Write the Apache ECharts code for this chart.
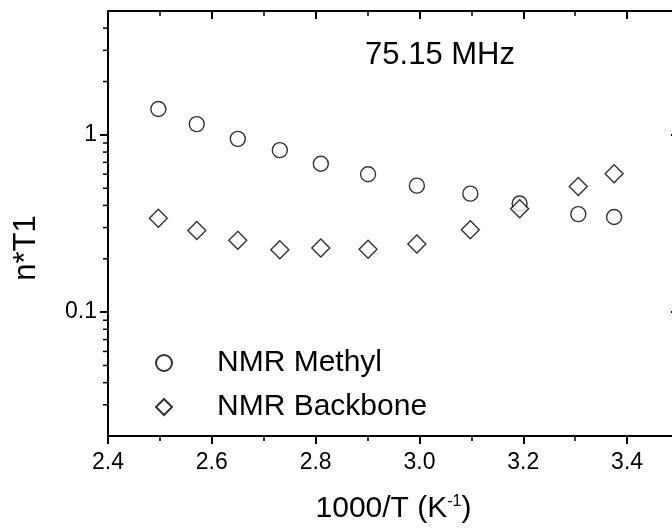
<!DOCTYPE html>
<html>
<head>
<meta charset="utf-8">
<script src="https://cdn.jsdelivr.net/npm/echarts@6/dist/echarts.min.js"></script>
<style>
  html, body { margin: 0; padding: 0; background: #fff; }
  #chart { width: 672px; height: 531px; }
</style>
</head>
<body>
<div id="chart"></div>
<script>
// 1000/T values shared by both series
var invT = [2.497, 2.571, 2.650, 2.731, 2.810, 2.901, 2.995, 3.098, 3.193, 3.306, 3.375];
var methyl = [1.40, 1.15, 0.95, 0.82, 0.687, 0.60, 0.517, 0.466, 0.41, 0.357, 0.344];
var backbone = [0.339, 0.289, 0.254, 0.225, 0.230, 0.226, 0.242, 0.292, 0.383, 0.511, 0.604];
var seriesNames = ['NMR Methyl', 'NMR Backbone'];
var yMinorTicks = [0.03, 0.04, 0.05, 0.06, 0.07, 0.08, 0.09,
                   0.2, 0.3, 0.4, 0.5, 0.6, 0.7, 0.8, 0.9, 2, 3, 4];

var FONT = '"Liberation Sans", Arial, Helvetica, sans-serif';

function pairs(xs, ys) {
  return xs.map(function (x, i) { return [x, ys[i]]; });
}

var myChart = echarts.init(document.getElementById('chart'), null, { renderer: 'canvas' });

var option = {
  backgroundColor: '#fff',
  animation: false,
  textStyle: { fontFamily: FONT, color: '#000' },
  // the right frame sits just outside the picture, as in the original crop
  grid: { left: 108, top: 11, width: 571, height: 425, outerBoundsMode: 'none', containLabel: false },
  legend: {
    orient: 'vertical',
    left: 155,
    top: 346,
    padding: 0,
    itemWidth: 16,
    itemHeight: 16,
    itemGap: 10,
    selectedMode: false,
    textStyle: { fontSize: 30, fontFamily: FONT, color: '#000', lineHeight: 34, padding: [0, 0, 0, 40] },
    data: [
      { name: seriesNames[0], icon: 'circle' },
      { name: seriesNames[1], icon: 'diamond' }
    ]
  },
  xAxis: [{
    type: 'value',
    position: 'bottom',
    min: 2.4,
    max: 3.5,
    interval: 0.2,
    name: '{a|1000/T (K}{s|-1}{a|)}',
    nameLocation: 'middle',
    nameGap: 58,
    nameTextStyle: {
      rich: {
        a: { fontSize: 30, fontFamily: FONT, color: '#000' },
        s: { fontSize: 16, fontFamily: FONT, color: '#000', verticalAlign: 'top' }
      }
    },
    axisLine: { onZero: false, lineStyle: { color: '#000', width: 2 } },
    axisTick: { inside: false, length: 8, lineStyle: { color: '#000', width: 2 } },
    minorTick: { show: true, splitNumber: 2, length: 5, lineStyle: { color: '#000', width: 1.5 } },
    axisLabel: {
      margin: 15, fontSize: 23, fontFamily: FONT, color: '#000', showMaxLabel: false,
      formatter: function (v) { return v.toFixed(1); }
    },
    splitLine: { show: false }
  }, {
    type: 'value',
    position: 'top',
    min: 2.4,
    max: 3.5,
    interval: 0.2,
    axisLine: { onZero: false, lineStyle: { color: '#000', width: 2 } },
    axisTick: { inside: true, length: 8, lineStyle: { color: '#000', width: 2 } },
    minorTick: { show: true, splitNumber: 2, length: 5, lineStyle: { color: '#000', width: 1.5 } },
    axisLabel: { show: false },
    splitLine: { show: false }
  }],
  yAxis: [{
    type: 'log',
    logBase: 10,
    position: 'left',
    min: 0.02,
    max: 5,
    axisLine: { onZero: false, lineStyle: { color: '#000', width: 2 } },
    axisTick: { inside: false, length: 8, lineStyle: { color: '#000', width: 2 } },
    axisLabel: {
      margin: 11, fontSize: 23, fontFamily: FONT, color: '#000',
      showMinLabel: false, showMaxLabel: false
    },
    splitLine: { show: false }
  }, {
    type: 'log',
    logBase: 10,
    position: 'right',
    min: 0.02,
    max: 5,
    axisLine: { onZero: false, lineStyle: { color: '#000', width: 2 } },
    axisTick: { inside: true, length: 8, lineStyle: { color: '#000', width: 2 } },
    axisLabel: { show: false },
    splitLine: { show: false }
  }],
  graphic: [{
    type: 'text',
    x: 26,
    y: 248,
    rotation: Math.PI / 2,
    style: { text: 'n*T1', font: '31px ' + FONT, fill: '#000', textAlign: 'center', textVerticalAlign: 'middle' }
  }, {
    type: 'text',
    x: 440,
    y: 55,
    style: { text: '75.15 MHz', font: '31px ' + FONT, fill: '#000', textAlign: 'center', textVerticalAlign: 'middle' }
  }],
  series: [{
    name: 'minor ticks',
    type: 'custom',
    silent: true,
    data: yMinorTicks.map(function (v) { return [2.4, v]; }),
    encode: { x: 0, y: 1 },
    renderItem: function (params, api) {
      var p = api.coord([api.value(0), api.value(1)]);
      return {
        type: 'line',
        shape: { x1: p[0] - 5, y1: p[1], x2: p[0], y2: p[1] },
        style: { stroke: '#000', lineWidth: 1.5 }
      };
    }
  }, {
    name: seriesNames[0],
    type: 'scatter',
    symbol: 'circle',
    symbolSize: 15,
    itemStyle: { color: '#fff', borderColor: '#000', borderWidth: 1.4 },
    data: pairs(invT, methyl)
  }, {
    name: seriesNames[1],
    type: 'scatter',
    symbol: 'diamond',
    symbolSize: 18,
    itemStyle: { color: '#fff', borderColor: '#000', borderWidth: 1.4 },
    data: pairs(invT, backbone)
  }]
};

myChart.setOption(option);
</script>
</body>
</html>
